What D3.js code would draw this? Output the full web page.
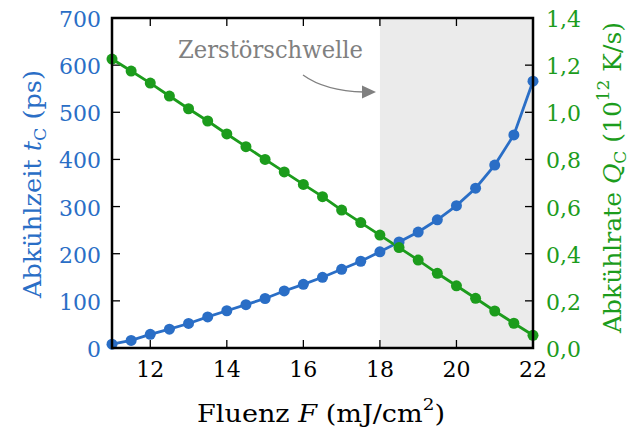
<!DOCTYPE html>
<html><head><meta charset="utf-8">
<script src="https://cdn.jsdelivr.net/npm/d3@7"></script>
<style>body{margin:0;background:#fff}svg{display:block}</style>
</head><body>
<script>
const fluence = [11,11.5,12,12.5,13,13.5,14,14.5,15,15.5,16,16.5,17,17.5,18,18.5,19,19.5,20,20.5,21,21.5,22];
const coolTime = [8,16,29,40,52,66,79,92,105,121,135,150,167,184,204,225,246,272,302,339,388,452,566];
const coolRate = [1.226,1.175,1.124,1.069,1.015,0.963,0.908,0.854,0.800,0.747,0.694,0.642,0.585,0.532,0.479,0.426,0.373,0.317,0.264,0.211,0.157,0.105,0.054];
const xTicks = [12,14,16,18,20,22];
const yLeftTicks = [0,100,200,300,400,500,600,700];
const yRightTicks = [0,0.2,0.4,0.6,0.8,1.0,1.2,1.4];
const threshold = 18;

const W=633,H=432, L=112,R=533,T=18,B=348;
const blue="#2a6ec6", green="#1c9c1c";
const FF="DejaVu Serif, serif";
const svg=d3.select("body").append("svg").attr("width",W).attr("height",H).style("font-family",FF);
const x=d3.scaleLinear().domain([11,22]).range([L,R]);
const yL=d3.scaleLinear().domain([0,700]).range([B,T]);
const yR=d3.scaleLinear().domain([0,1.4]).range([B,T]);

svg.append("rect").attr("x",x(threshold)).attr("y",T).attr("width",x(22)-x(threshold)).attr("height",B-T).attr("fill","#ebebeb");

// ticks
const tl=8;
const g=svg.append("g").attr("stroke","#000").attr("stroke-width",1.3);
xTicks.forEach(v=>{g.append("line").attr("x1",x(v)).attr("x2",x(v)).attr("y1",B).attr("y2",B-tl);
 g.append("line").attr("x1",x(v)).attr("x2",x(v)).attr("y1",T).attr("y2",T+tl);});
yLeftTicks.forEach(v=>{g.append("line").attr("x1",L).attr("x2",L+tl).attr("y1",yL(v)).attr("y2",yL(v));});
yRightTicks.forEach(v=>{g.append("line").attr("x1",R).attr("x2",R-tl).attr("y1",yR(v)).attr("y2",yR(v));});

// lines
const lineB=d3.line().x((d,i)=>x(fluence[i])).y(d=>yL(d));
const lineG=d3.line().x((d,i)=>x(fluence[i])).y(d=>yR(d));
svg.append("path").attr("d",lineB(coolTime)).attr("fill","none").attr("stroke",blue).attr("stroke-width",2.8);
svg.append("path").attr("d",lineG(coolRate)).attr("fill","none").attr("stroke",green).attr("stroke-width",2.8);
svg.append("g").selectAll("circle").data(coolTime).join("circle").attr("cx",(d,i)=>x(fluence[i])).attr("cy",d=>yL(d)).attr("r",5.5).attr("fill",blue);
svg.append("g").selectAll("circle").data(coolRate).join("circle").attr("cx",(d,i)=>x(fluence[i])).attr("cy",d=>yR(d)).attr("r",5.5).attr("fill",green);

// frame
svg.append("rect").attr("x",L).attr("y",T).attr("width",R-L).attr("height",B-T).attr("fill","none").attr("stroke","#000").attr("stroke-width",2.5);

// tick labels
const fs=22;
svg.append("g").selectAll("text").data(xTicks).join("text").attr("x",d=>x(d)).attr("y",377).attr("text-anchor","middle").attr("font-size",fs).text(d=>d);
svg.append("g").selectAll("text").data(yLeftTicks).join("text").attr("x",101).attr("y",d=>yL(d)+9).attr("text-anchor","end").attr("font-size",fs).attr("fill",blue).text(d=>d);
svg.append("g").selectAll("text").data(yRightTicks).join("text").attr("x",546).attr("y",d=>yR(d)+9).attr("text-anchor","start").attr("font-size",fs).attr("fill",green).text(d=>d.toFixed(1).replace(".",","));

// axis labels
const afs=25, sfs=17;
const xl=svg.append("text").attr("x",197).attr("y",422).attr("font-size",afs).attr("textLength",248).attr("lengthAdjust","spacingAndGlyphs");
xl.append("tspan").text("Fluenz ");
xl.append("tspan").attr("font-style","italic").text("F");
xl.append("tspan").text(" (mJ/cm");
xl.append("tspan").attr("font-size",sfs).attr("dy",-12).text("2");
xl.append("tspan").attr("dy",12).text(")");

const ll=svg.append("text").attr("transform","translate(41,298) rotate(-90)").attr("font-size",afs).attr("fill",blue).attr("textLength",228).attr("lengthAdjust","spacingAndGlyphs");
ll.append("tspan").text("Abkühlzeit ");
ll.append("tspan").attr("font-style","italic").text("t");
ll.append("tspan").attr("font-size",sfs).attr("dy",5).text("C");
ll.append("tspan").attr("dy",-5).text(" (ps)");

const rl=svg.append("text").attr("transform","translate(621,333) rotate(-90)").attr("font-size",afs).attr("fill",green).attr("textLength",311).attr("lengthAdjust","spacingAndGlyphs");
rl.append("tspan").text("Abkühlrate ");
rl.append("tspan").attr("font-style","italic").text("Q");
rl.append("tspan").attr("font-size",sfs).attr("dy",5).text("C");
rl.append("tspan").attr("dy",-5).text(" (10");
rl.append("tspan").attr("font-size",sfs).attr("dy",-12).text("12");
rl.append("tspan").attr("dy",12).text(" K/s)");

// annotation
svg.append("text").attr("x",178).attr("y",58).attr("font-size",25).attr("fill","#808080").attr("textLength",185).attr("lengthAdjust","spacingAndGlyphs").text("Zerstörschwelle");
svg.append("path").attr("d","M303,75 Q325,91 364,92").attr("fill","none").attr("stroke","#808080").attr("stroke-width",1.3);
svg.append("path").attr("d","M376,92 L362,85.5 L362,98.5 Z").attr("fill","#808080");
</script>
</body></html>
